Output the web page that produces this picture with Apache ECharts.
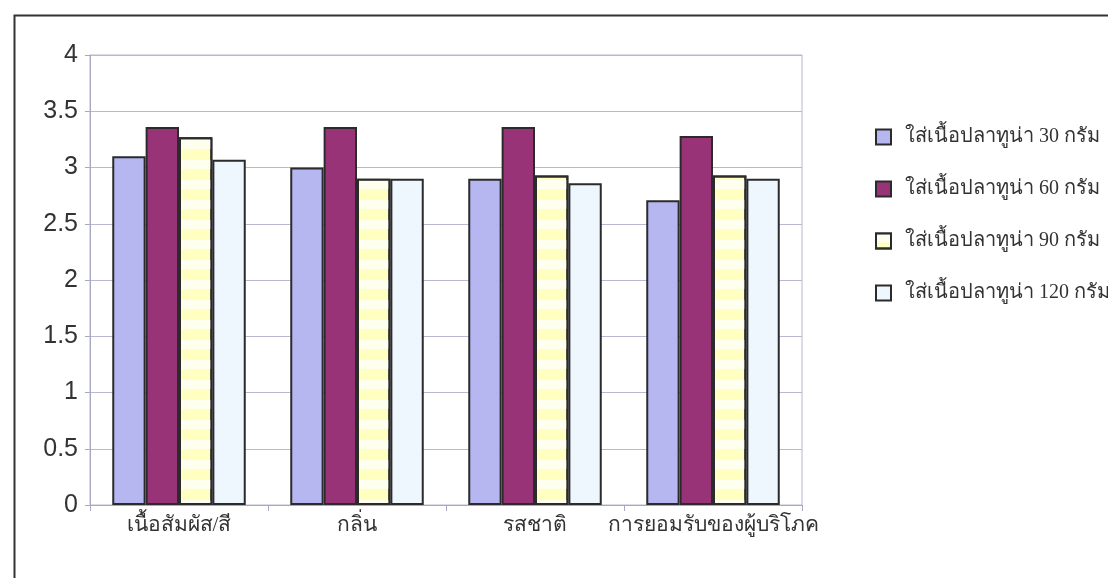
<!DOCTYPE html>
<html>
<head>
<meta charset="utf-8">
<script src="https://cdn.jsdelivr.net/npm/echarts@6/dist/echarts.min.js"></script>
<style>
  html, body { margin: 0; padding: 0; background: #ffffff; }
  #chart { width: 1108px; height: 578px; }
</style>
</head>
<body>
<div id="chart"></div>
<script>
// Sensory scores for tuna-filled samples
const categories = ['เนื้อสัมผัส/สี', 'กลิ่น', 'รสชาติ', 'การยอมรับของผู้บริโภค'];
const seriesNames = ['ใส่เนื้อปลาทูน่า 30 กรัม', 'ใส่เนื้อปลาทูน่า 60 กรัม', 'ใส่เนื้อปลาทูน่า 90 กรัม', 'ใส่เนื้อปลาทูน่า 120 กรัม'];
const tuna30 = [3.10, 3.00, 2.90, 2.71];
const tuna60 = [3.36, 3.36, 3.36, 3.28];
const tuna90 = [3.27, 2.90, 2.93, 2.93];
const tuna120 = [3.07, 2.90, 2.86, 2.90];
const yTicks = [0, 0.5, 1, 1.5, 2, 2.5, 3, 3.5, 4];

const thaiFont = '"Liberation Serif", "DejaVu Serif", serif';
const fills = ['#b6b6f0', '#993377', '#ffffc0', '#eef7fd'];
const values = [tuna30, tuna60, tuna90, tuna120];

const chart = echarts.init(document.getElementById('chart'), null, { renderer: 'canvas' });

const series = values.map((vals, i) => {
  const s = {
    name: seriesNames[i],
    type: 'bar',
    data: vals,
    barGap: '0%',
    barCategoryGap: '25%',
    itemStyle: {
      color: fills[i],
      borderColor: '#2b2b2b',
      borderWidth: 2
    },
    emphasis: { disabled: true }
  };
  if (i === 2) {
    // horizontal light bands over the yellow fill
    s.itemStyle.decal = {
      symbol: 'rect',
      symbolSize: 1,
      dashArrayX: [[1, 0]],
      dashArrayY: [9, 11],
      color: 'rgba(255,255,255,0.75)',
      rotation: 0
    };
  }
  return s;
});

chart.setOption({
  animation: false,
  backgroundColor: '#ffffff',
  graphic: [{
    type: 'rect',
    left: 12, top: 13,
    shape: { width: 1200, height: 600 },
    style: { fill: 'none', stroke: '#333333', lineWidth: 2 },
    silent: true
  }],
  grid: {
    left: 90, right: 306, top: 55, bottom: 73,
    show: true,
    borderColor: '#b8b8d0',
    borderWidth: 1
  },
  legend: {
    orient: 'vertical',
    left: 875, top: 127,
    padding: 0,
    itemWidth: 15, itemHeight: 15,
    itemGap: 32,
    icon: 'rect',
    textStyle: {
      fontFamily: thaiFont, fontSize: 20, color: '#333333',
      lineHeight: 15, padding: [0, 0, 0, 9]
    },
    data: seriesNames
  },
  xAxis: {
    type: 'category',
    data: categories,
    axisLine: { lineStyle: { color: '#a8a8c0', width: 1 } },
    axisTick: { show: true, length: 6, lineStyle: { color: '#a8a8c0' } },
    axisLabel: { interval: 0, fontFamily: thaiFont, fontSize: 21, color: '#333333', margin: 10 }
  },
  yAxis: {
    type: 'value',
    min: 0, max: 4, interval: 0.5,
    axisLine: { show: true, lineStyle: { color: '#a8a8c0', width: 1 } },
    axisTick: { show: true, length: 5, lineStyle: { color: '#a8a8c0' } },
    splitLine: { lineStyle: { color: '#b8b8d0', width: 1 } },
    axisLabel: {
      fontFamily: 'Liberation Sans, Arial, sans-serif',
      fontSize: 25,
      color: '#333333',
      margin: 12,
      formatter: v => (yTicks.indexOf(v) >= 0 ? String(v) : '')
    }
  },
  series: series
});
</script>
</body>
</html>
